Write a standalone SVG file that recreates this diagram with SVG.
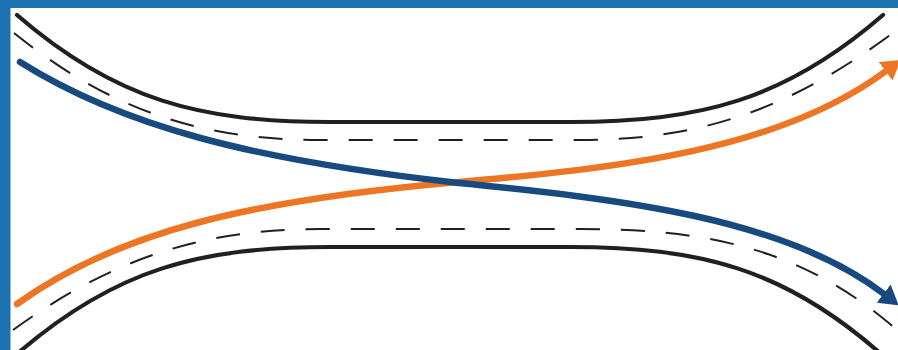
<svg xmlns="http://www.w3.org/2000/svg" width="898" height="350" viewBox="0 0 898 350">
  <style>
    .edge { fill: none; stroke: #231f20; stroke-width: 4.2; stroke-linecap: round; }
    .lane { fill: none; stroke: #231f20; stroke-width: 2; stroke-dasharray: 24 21; }
    .flow { fill: none; stroke-width: 6.5; stroke-linecap: round; }
  </style>
  <defs>
    <marker id="headBlue" markerUnits="userSpaceOnUse" viewBox="0 0 19 23" markerWidth="19" markerHeight="23" refX="0.5" refY="11.5" orient="auto">
      <path d="M0,0 L19,11.5 L0,23 Z" fill="#174a7e"/>
    </marker>
    <marker id="headOrange" markerUnits="userSpaceOnUse" viewBox="0 0 19 23" markerWidth="19" markerHeight="23" refX="0.5" refY="11.5" orient="auto">
      <path d="M0,0 L19,11.5 L0,23 Z" fill="#ed7625"/>
    </marker>
  </defs>
  <rect x="0" y="0" width="898" height="350" fill="#ffffff"/>

  <g id="road">
    <path class="edge" d="M17,15 C115,100 200,122 330,122 L570,122 C700,122 785,100 883,15"/>
    <path class="edge" d="M17,354 C115,269 200,247 330,247 L570,247 C700,247 785,269 881,354"/>
    <path class="lane" d="M14,33 C110,110 200,140 320,140 L580,140 C700,140 790,110 897,30"/>
    <path class="lane" d="M13,330 C110,260 200,229 320,229 L580,229 C700,229 800,245 897,330"/>
  </g>

  <g id="connectors">
    <path id="orange-flow" class="flow" stroke="#ed7625" marker-end="url(#headOrange)"
      d="M17,304 C117,232 250,200 459,182 C620,168 780,150 886,71"/>
    <path id="blue-flow" class="flow" stroke="#174a7e" marker-end="url(#headBlue)"
      d="M20,62 C120,125 250,160 459,183 C620,199 785,218 884,294"/>
  </g>

  <g id="frame">
    <rect x="0" y="0" width="898" height="8" fill="#1a72b3"/>
    <rect x="0" y="0" width="10.5" height="350" fill="#1a72b3"/>
  </g>
</svg>
